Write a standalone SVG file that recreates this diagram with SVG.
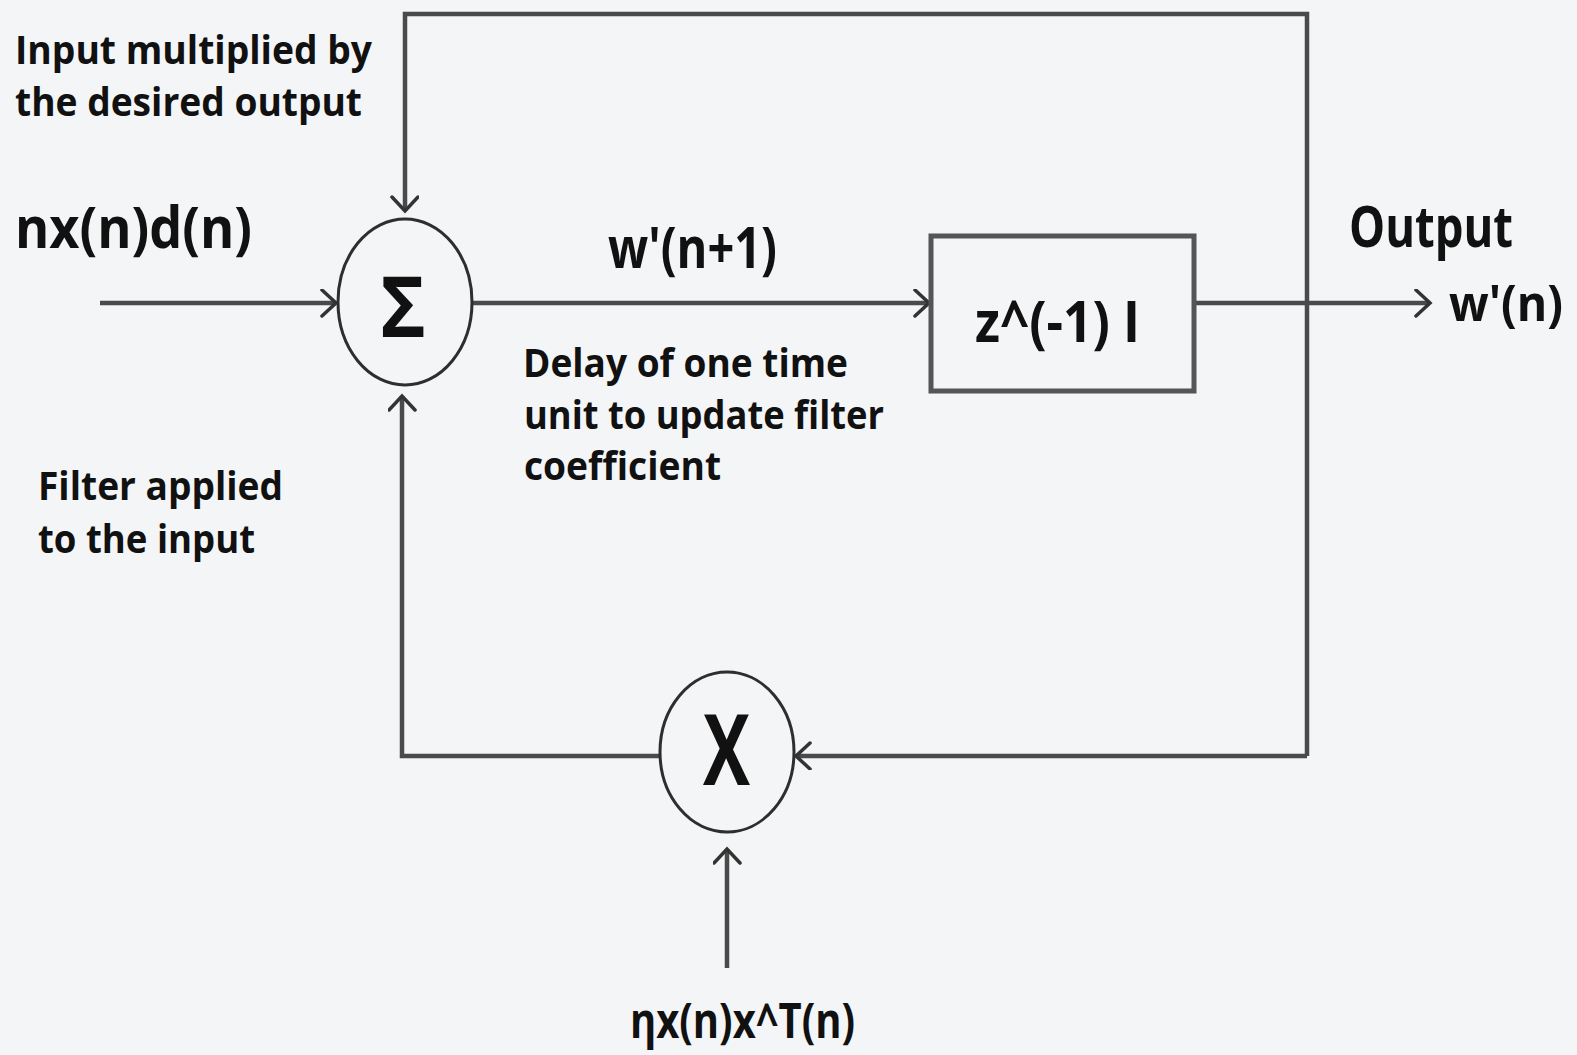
<svg xmlns="http://www.w3.org/2000/svg" width="1577" height="1055" viewBox="0 0 1577 1055">
<defs>
<marker id="arr" markerUnits="userSpaceOnUse" markerWidth="24" markerHeight="30" refX="16" refY="14" orient="auto">
<path d="M2,1 L16,14 L2,27" fill="none" stroke="#333" stroke-width="3.5" stroke-linecap="round"/>
</marker>
<style>
.ln{fill:none;stroke:#4a4a4a;stroke-width:4.5;}
.node{fill:none;stroke:#2e2e2e;stroke-width:3;}
.box{fill:none;stroke:#555;stroke-width:5;}
.t{font-family:"Open Sans","Liberation Sans",sans-serif;font-weight:700;fill:#111;}
.s{font-size:40px;}
.m{font-size:58px;font-weight:700;}
</style>
</defs>
<rect x="0" y="0" width="1577" height="1055" fill="#f4f5f7"/>
<g id="connectors">
<line class="ln" x1="100" y1="303" x2="336" y2="303" marker-end="url(#arr)"/>
<polyline class="ln" points="1307,756 1307,14 405,14 405,211" marker-end="url(#arr)"/>
<line class="ln" x1="473" y1="303" x2="929" y2="303" marker-end="url(#arr)"/>
<line class="ln" x1="1195" y1="303" x2="1430" y2="303" marker-end="url(#arr)"/>
<polyline class="ln" points="1307,756 796,756" marker-end="url(#arr)"/>
<polyline class="ln" points="660,756 402,756 402,396" marker-end="url(#arr)"/>
<line class="ln" x1="727" y1="968" x2="727" y2="849" marker-end="url(#arr)"/>
</g>
<g id="sum">
<ellipse class="node" cx="405" cy="302" rx="67" ry="83"/>
<text class="t" x="380" y="337" font-size="85" textLength="46" lengthAdjust="spacingAndGlyphs">Σ</text>
</g>
<g id="delay">
<rect class="box" x="931" y="236" width="263" height="155"/>
<text class="t" x="975" y="342" font-size="58" font-weight="600" textLength="165" lengthAdjust="spacingAndGlyphs">z^(-1) I</text>
</g>
<g id="mult">
<ellipse class="node" cx="727" cy="752" rx="67" ry="80"/>
<text class="t" x="703" y="785" font-size="98" textLength="47" lengthAdjust="spacingAndGlyphs">X</text>
</g>
<g id="labels">
<text class="t s" x="15" y="64" textLength="357" lengthAdjust="spacingAndGlyphs">Input multiplied by</text>
<text class="t s" x="15" y="116" textLength="347" lengthAdjust="spacingAndGlyphs">the desired output</text>
<text class="t m" x="15" y="248" font-size="56" textLength="237" lengthAdjust="spacingAndGlyphs">nx(n)d(n)</text>
<text class="t m" x="608" y="268" font-size="60" textLength="169" lengthAdjust="spacingAndGlyphs">w'(n+1)</text>
<text class="t s" x="523" y="377" textLength="325" lengthAdjust="spacingAndGlyphs">Delay of one time</text>
<text class="t s" x="524" y="429" textLength="360" lengthAdjust="spacingAndGlyphs">unit to update filter</text>
<text class="t s" x="524" y="480" textLength="197" lengthAdjust="spacingAndGlyphs">coefficient</text>
<text class="t s" x="38" y="500" textLength="245" lengthAdjust="spacingAndGlyphs">Filter applied</text>
<text class="t s" x="38" y="553" textLength="217" lengthAdjust="spacingAndGlyphs">to the input</text>
<text class="t m" x="1349" y="247" textLength="164" lengthAdjust="spacingAndGlyphs">Output</text>
<text class="t" x="1449" y="321" font-size="50" textLength="114" lengthAdjust="spacingAndGlyphs">w'(n)</text>
<text class="t" x="630" y="1038" font-size="48" font-weight="700" textLength="225" lengthAdjust="spacingAndGlyphs">ηx(n)x^T(n)</text>
</g>
</svg>
